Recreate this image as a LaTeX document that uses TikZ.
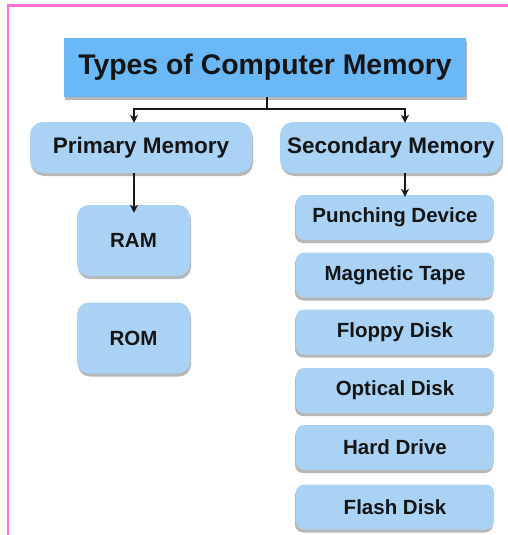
\documentclass[tikz,border=0pt]{standalone}
\usepackage{fontspec}
\setmainfont{Liberation Sans}
\usetikzlibrary{shadows,arrows.meta}
\definecolor{topblue}{HTML}{6BB8F6}
\definecolor{boxblue}{HTML}{A9D2F4}
\definecolor{pinkline}{HTML}{FF6FD8}
\definecolor{txt}{HTML}{151515}
\tikzset{
  topbox/.style={fill=topblue, draw=none, minimum width=402pt, minimum height=59pt, inner sep=0pt,
    font=\fontsize{28.4}{30}\selectfont\bfseries, text=txt,
    drop shadow={shadow xshift=1pt, shadow yshift=-3pt, opacity=0.4, fill=black!70}},
  lvlbox/.style={fill=boxblue, draw=none, rounded corners=13pt, minimum width=222pt, minimum height=51pt, inner sep=0pt,
    font=\fontsize{22.5}{24}\selectfont\bfseries, text=txt,
    drop shadow={shadow xshift=1pt, shadow yshift=-3pt, opacity=0.4, fill=black!70}},
  prbox/.style={fill=boxblue, draw=none, rounded corners=12pt, minimum width=113pt, minimum height=71pt, inner sep=0pt,
    font=\fontsize{20.5}{22}\selectfont\bfseries, text=txt,
    drop shadow={shadow xshift=1pt, shadow yshift=-3pt, opacity=0.4, fill=black!70}},
  scbox/.style={fill=boxblue, draw=none, rounded corners=8pt, minimum width=198pt, minimum height=45pt, inner sep=0pt,
    font=\fontsize{20.5}{22}\selectfont\bfseries, text=txt,
    drop shadow={shadow xshift=-1pt, shadow yshift=-3pt, opacity=0.4, fill=black!70}},
  conn/.style={line width=2.6pt, draw=black!90},
  arr/.style={conn, -{Stealth[length=8pt,width=8pt]}}
}
\begin{document}
\begin{tikzpicture}[x=1pt,y=-1pt]
\useasboundingbox (0,0) rectangle (508,535);
\fill[white] (0,0) rectangle (508,535);
\draw[pinkline, line width=2.2pt] (8,535) -- (8,5.5) -- (508,5.5);

\node[topbox] (top) at (265,67.5) {Types of Computer Memory};
\node[lvlbox] (prim) at (141,147.5) {Primary Memory};
\node[lvlbox] (sec) at (391,147.5) {Secondary Memory};
\node[prbox] (ram) at (133.5,240.5) {RAM};
\node[prbox] (rom) at (133.5,338) {ROM};
\node[scbox] (s1) at (395,217.5) {Punching Device};
\node[scbox] (s2) at (395,275) {Magnetic Tape};
\node[scbox] (s3) at (395,332) {Floppy Disk};
\node[scbox] (s4) at (395,390.5) {Optical Disk};
\node[scbox] (s5) at (395,447.5) {Hard Drive};
\node[scbox] (s6) at (395,507) {Flash Disk};

\coordinate (j) at (267,109);
\coordinate (pa) at (134,109);
\coordinate (sa) at (405,109);
\draw[conn] (top.south -| j) -- (j);
\draw[conn, line cap=rect] (pa) -- (sa);
\draw[arr] (pa) -- ([yshift=-1pt]prim.north -| pa);
\draw[arr] (sa) -- ([yshift=-1pt]sec.north -| sa);
\draw[arr] (prim.south -| pa) -- ([yshift=-8pt]ram.north -| pa);
\draw[arr] (sec.south -| sa) -- ([yshift=-2pt]s1.north -| sa);
\end{tikzpicture}
\end{document}
